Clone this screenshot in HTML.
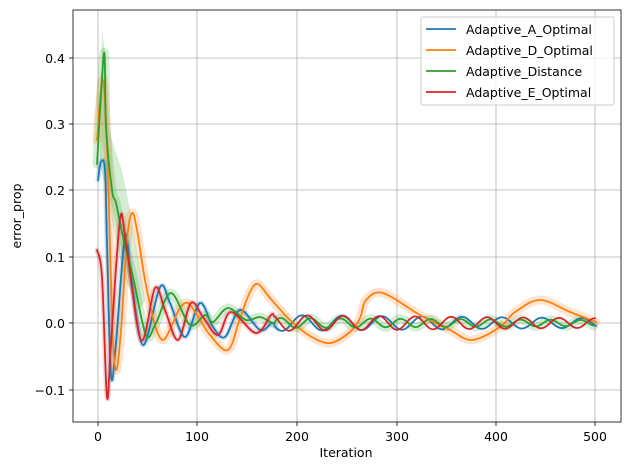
<!DOCTYPE html>
<html><head><meta charset="utf-8"><style>
html,body{margin:0;padding:0;background:#fff;overflow:hidden;}
svg{display:block;font-family:"DejaVu Sans","Liberation Sans",sans-serif;}
</style></head><body>
<svg id="s" width="630" height="470" viewBox="0 0 630 470">
<defs><clipPath id="c"><rect x="73" y="10" width="548" height="412"/></clipPath></defs>
<rect width="630" height="470" fill="#fff"/>
<g stroke="#b0b0b0" stroke-width="0.8">
<line x1="98" y1="10" x2="98" y2="422"/><line x1="197" y1="10" x2="197" y2="422"/><line x1="297" y1="10" x2="297" y2="422"/><line x1="397" y1="10" x2="397" y2="422"/><line x1="496" y1="10" x2="496" y2="422"/><line x1="595" y1="10" x2="595" y2="422"/>
<line x1="73" y1="58" x2="621" y2="58"/><line x1="73" y1="124" x2="621" y2="124"/><line x1="73" y1="190" x2="621" y2="190"/><line x1="73" y1="257" x2="621" y2="257"/><line x1="73" y1="323" x2="621" y2="323"/><line x1="73" y1="390" x2="621" y2="390"/>
</g>
<g id="bands" clip-path="url(#c)"></g>
<g id="lines" clip-path="url(#c)"></g>
<rect x="73" y="10" width="548" height="412" fill="none" stroke="#000" stroke-width="0.8"/>
<g stroke="#000" stroke-width="0.8">
<line x1="98" y1="422" x2="98" y2="426"/><line x1="197" y1="422" x2="197" y2="426"/><line x1="297" y1="422" x2="297" y2="426"/><line x1="397" y1="422" x2="397" y2="426"/><line x1="496" y1="422" x2="496" y2="426"/><line x1="595" y1="422" x2="595" y2="426"/>
<line x1="69" y1="58" x2="73" y2="58"/><line x1="69" y1="124" x2="73" y2="124"/><line x1="69" y1="190" x2="73" y2="190"/><line x1="69" y1="257" x2="73" y2="257"/><line x1="69" y1="323" x2="73" y2="323"/><line x1="69" y1="390" x2="73" y2="390"/>
</g>
<g font-size="12.5" fill="#000" text-anchor="middle">
<text x="98" y="441">0</text><text x="197" y="441">100</text><text x="297" y="441">200</text><text x="397" y="441">300</text><text x="496" y="441">400</text><text x="595" y="441">500</text>
</g>
<g font-size="12.5" fill="#000" text-anchor="end">
<text x="65" y="63">0.4</text><text x="65" y="129">0.3</text><text x="65" y="195">0.2</text><text x="65" y="262">0.1</text><text x="65" y="328">0.0</text><text x="65" y="395">−0.1</text>
</g>
<text x="346" y="457" font-size="12.5" text-anchor="middle">Iteration</text>
<text x="21" y="216" font-size="12.5" text-anchor="middle" transform="rotate(-90 21 216)">error_prop</text>
<rect x="421" y="17" width="193" height="88" rx="2" fill="#fff" fill-opacity="0.8" stroke="#ccc"/>
<g stroke-width="1.8">
<line x1="426" y1="29" x2="456" y2="29" stroke="#1f77b4"/><line x1="426" y1="50" x2="456" y2="50" stroke="#ff7f0e"/>
<line x1="426" y1="71" x2="456" y2="71" stroke="#2ca02c"/><line x1="426" y1="92" x2="456" y2="92" stroke="#d62728"/>
</g>
<g font-size="12.5" fill="#000">
<text x="466" y="34">Adaptive_A_Optimal</text><text x="466" y="55">Adaptive_D_Optimal</text>
<text x="466" y="76">Adaptive_Distance</text><text x="466" y="97">Adaptive_E_Optimal</text>
</g>
</svg>
<script>
function tail(pts,x0,per,amp,ph,end){for(let x=x0;x<=end;x+=3){let a=amp*(1-0.4*(x-x0)/(end-x0));pts.push([x,323+a*Math.sin((x-x0)/per*2*Math.PI+ph)]);}return pts;}
const blue=tail([[98,180],[101,162],[105,170],[107,243],[111,375],[116,343],[125,237],[131,277],[143,345],[160,287],[170,303],[185,337],[200,303],[213,327],[225,337],[240,310],[260,330]],272,40,8,0,596);
const red=tail([[97,250],[102,277],[107,397],[111,343],[120,220],[126,243],[141,340],[155,288],[165,310],[178,340],[191,303],[203,317],[218,335],[231,312],[256,333]],271,36,8,-1.6,596);
const green=tail([[97,164],[104,53],[106,127],[112,190],[116,203],[123,237],[133,277],[146,335],[156,323],[171,293],[190,325],[205,315],[213,322],[228,308],[246,320],[260,317]],273,30,5,3.1,596);
const orange=[[97,140],[103,80],[108,170],[112,320],[116,370],[121,330],[127,240],[132,213],[137,230],[145,280],[155,325],[163,340],[172,325],[180,308],[188,303],[197,315],[210,335],[228,350],[240,318],[250,292],[258,284],[270,298],[290,320],[310,336],[330,343],[350,332],[360,318],[366,300],[383,293],[420,315],[450,330],[472,340],[500,327],[515,312],[540,300],[570,312],[596,322]];
const ns="http://www.w3.org/2000/svg";
function f(v){return v.toFixed(1);}
function smooth(p){
  let d="M"+f(p[0][0])+","+f(p[0][1]);
  for(let i=0;i<p.length-1;i++){
    const p0=p[Math.max(i-1,0)],p1=p[i],p2=p[i+1],p3=p[Math.min(i+2,p.length-1)];
    const c1x=p1[0]+(p2[0]-p0[0])/6,c1y=p1[1]+(p2[1]-p0[1])/6;
    const c2x=p2[0]-(p3[0]-p1[0])/6,c2y=p2[1]-(p3[1]-p1[1])/6;
    d+=" C"+f(c1x)+","+f(c1y)+" "+f(c2x)+","+f(c2y)+" "+f(p2[0])+","+f(p2[1]);
  }
  return d;
}
function pl(g,p,c,w,o){const e=document.createElementNS(ns,"path");e.setAttribute("d",smooth(p));e.setAttribute("fill","none");e.setAttribute("stroke",c);e.setAttribute("stroke-width",w);e.setAttribute("stroke-linejoin","round");e.setAttribute("stroke-linecap","round");if(o)e.setAttribute("stroke-opacity",o);document.getElementById(g).appendChild(e);}
function poly(g,pts,c,o){const e=document.createElementNS(ns,"polygon");e.setAttribute("points",pts.map(q=>q.join(",")).join(" "));e.setAttribute("fill",c);e.setAttribute("fill-opacity",o);document.getElementById(g).appendChild(e);}
pl("bands",green,"#2ca02c",9,0.2);
poly("bands",[[102,30],[106,60],[109,130],[115,150],[122,170],[130,210],[138,260],[145,300],[140,310],[125,280],[118,250],[111,215],[105,185],[100,165]],"#2ca02c",0.2);
pl("bands",orange,"#ff7f0e",9,0.2);
pl("bands",blue.slice(0,20),"#1f77b4",5,0.2);
pl("bands",red.slice(0,18),"#d62728",5,0.2);
pl("lines",blue,"#1f77b4",1.8);pl("lines",orange,"#ff7f0e",1.8);pl("lines",green,"#2ca02c",1.8);pl("lines",red,"#d62728",1.8);
</script>
</body></html>
